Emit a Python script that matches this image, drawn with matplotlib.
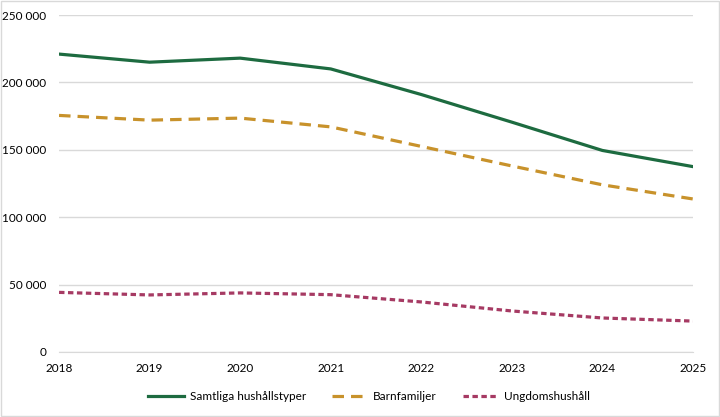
import matplotlib
matplotlib.use("Agg")
import matplotlib.pyplot as plt
from matplotlib.ticker import FuncFormatter, MultipleLocator

plt.rcParams['font.family'] = ['Lato', 'DejaVu Sans']

# years on the x axis
years = [2018, 2019, 2020, 2021, 2022, 2023, 2024, 2025]

# number of households per type
samtliga = [221000, 215000, 218000, 210000, 191000, 170500, 149500, 137500]
barnfamiljer = [175500, 172000, 173500, 167000, 152500, 138000, 124000, 113500]
ungdom = [44200, 42300, 43800, 42500, 37100, 30400, 25200, 22900]

labels = ["Samtliga hushållstyper", "Barnfamiljer", "Ungdomshushåll"]

fig = plt.figure(figsize=(7.2, 4.17), dpi=100)
ax = fig.add_axes([0.082, 0.156, 0.8805, 0.808])

ax.plot(years, samtliga, color="#1d6b40", lw=2.3, label=labels[0])
ax.plot(years, barnfamiljer, color="#c8922b", lw=2.3, dashes=(3.6, 2.2), label=labels[1])
ax.plot(years, ungdom, color="#a63a63", lw=2.3, dashes=(1.7, 1.1), label=labels[2])

ax.set_xlim(2018, 2025)
ax.set_ylim(0, 250000)
ax.yaxis.set_major_locator(MultipleLocator(50000))
ax.yaxis.set_major_formatter(FuncFormatter(lambda v, p: f"{int(v):,}".replace(",", " ")))
ax.set_xticks(years)

ax.grid(axis="y", color="#d9d9d9", lw=1)
ax.set_axisbelow(True)
for s in ["top", "right", "left"]:
    ax.spines[s].set_visible(False)
ax.spines["bottom"].set_color("#d9d9d9")
ax.tick_params(axis="both", length=0, labelsize=8.5, colors="#000000")
ax.tick_params(axis="y", pad=9)
ax.tick_params(axis="x", pad=8)

fig.legend(loc="center", bbox_to_anchor=(0.513, 0.05), ncol=3, frameon=False,
           fontsize=8.5, handlelength=3.0, columnspacing=2.2, handletextpad=0.5)

# light frame around the chart area
fig.patches.append(plt.Rectangle((0.001, 0.002), 0.997, 0.996, transform=fig.transFigure,
                                 fill=False, ec="#d9d9d9", lw=1))

fig.savefig("out.png", dpi=100)
